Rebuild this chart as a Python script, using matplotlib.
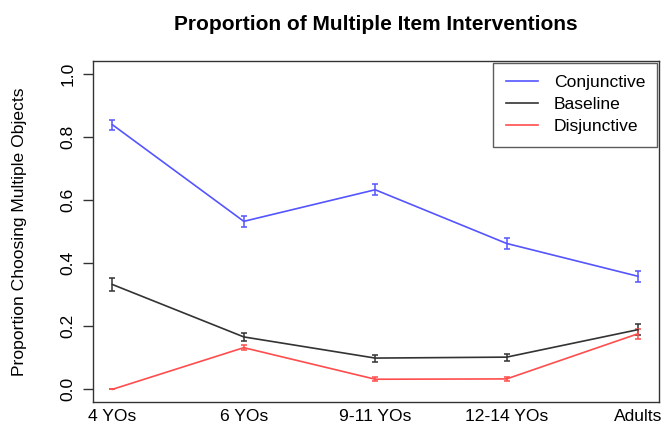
import numpy as np
import matplotlib.pyplot as plt

plt.rcParams['font.family'] = ['Liberation Sans', 'DejaVu Sans']

groups = ['4 YOs', '6 YOs', '9-11 YOs', '12-14 YOs', 'Adults']

conjunctive = [0.838, 0.532, 0.632, 0.462, 0.358]
conjunctive_err = [0.016, 0.018, 0.017, 0.017, 0.017]

baseline = [0.332, 0.166, 0.099, 0.102, 0.189]
baseline_err = [0.021, 0.013, 0.011, 0.011, 0.017]

disjunctive = [0.0, 0.132, 0.032, 0.033, 0.176]
disjunctive_err = [0.0, 0.009, 0.006, 0.006, 0.016]

series = [
    ('Conjunctive', conjunctive, conjunctive_err, '#5555ff'),
    ('Baseline', baseline, baseline_err, '#333333'),
    ('Disjunctive', disjunctive, disjunctive_err, '#ff4d4d'),
]

fig = plt.figure(figsize=(6.62, 4.29), dpi=100)
ax = fig.add_axes([0.141, 0.063, 0.8545, 0.795])

x = np.arange(1, len(groups) + 1)
for name, vals, errs, col in series:
    ax.errorbar(x, vals, yerr=errs, color=col, lw=1.2, elinewidth=1.1,
                capsize=2.2, capthick=1.1, label=name)

ax.set_xlim(0.855, 5.16)
ax.set_ylim(-0.04, 1.04)
ax.set_xticks(x)
ax.set_xticklabels(groups, fontsize=12.6)
ax.tick_params(axis='x', length=0, pad=5)
ax.set_yticks([0.0, 0.2, 0.4, 0.6, 0.8, 1.0])
ax.set_yticklabels(['0.0', '0.2', '0.4', '0.6', '0.8', '1.0'], rotation=90,
                   va='center', fontsize=12.6)
ax.tick_params(axis='y', length=7, width=1, pad=6, color='#333333')
for s in ax.spines.values():
    s.set_color('#333333')
    s.set_linewidth(1)

ax.set_ylabel('Proportion Choosing Multiple Objects', fontsize=12.6)
ax.yaxis.set_label_coords(-0.117, 0.5)
ax.set_title('Proportion of Multiple Item Interventions', fontsize=15,
             fontweight='bold', pad=22)

# legend shows plain lines, no error bars
handles = [plt.Line2D([], [], color=c, lw=1.2) for _, _, _, c in series]
leg = ax.legend(handles, [s[0] for s in series], loc='upper right',
                borderaxespad=0.1, fancybox=False, fontsize=12.6,
                handlelength=1.85, handletextpad=0.9, labelspacing=0.4,
                borderpad=0.69)
leg.get_frame().set_edgecolor('#333333')
leg.get_frame().set_linewidth(1)

fig.savefig('out.png', dpi=100)
